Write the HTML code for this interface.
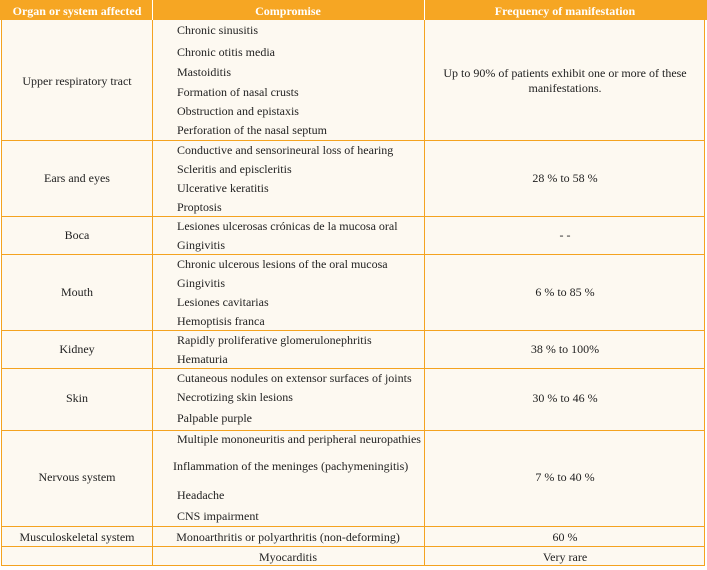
<!DOCTYPE html>
<html><head><meta charset="utf-8"><style>
body{margin:0;width:707px;height:570px;background:#fff;overflow:hidden;font-family:"Liberation Serif",serif;font-size:12px;color:#222}
#t{position:absolute;left:1px;top:0;width:704px;height:566px;background:#fdf9f1;border:1px solid #f4a320;box-sizing:border-box}
.h{position:absolute;left:0;top:0;width:707px;height:20px;background:#f6a623}
.hl{position:absolute;left:1px;width:704px;height:1px;background:#f4a320}
.vl{position:absolute;width:1px;background:#f4a320}
.tx{position:absolute;white-space:nowrap;line-height:14px;transform:translateY(-7px)}
.c{transform:translate(-50%,-7px);text-align:center}
.hd{color:#fff;font-weight:bold;font-size:12px}
</style></head><body>
<div id="t"></div>
<div class="h"></div>
<div class="vl" style="left:152px;top:0;height:566px"></div>
<div class="vl" style="left:424px;top:0;height:566px"></div>
<div class="vl" style="left:152px;top:0;height:20px;background:#fff"></div>
<div class="vl" style="left:424px;top:0;height:20px;background:#fff"></div>
<div class="tx c hd" style="left:77px;top:11px">Organ or system affected</div>
<div class="tx c hd" style="left:288px;top:11px">Compromise</div>
<div class="tx c hd" style="left:565px;top:11px">Frequency of manifestation</div>
<div id="rows"></div>
<script>
const lines=[140,216,254,330,368,430,526,546];
const rows=document.getElementById('rows');
lines.forEach(y=>{const d=document.createElement('div');d.className='hl';d.style.top=y+'px';


rows.appendChild(d);});
const data=[
 ["Upper respiratory tract",81,[["Chronic sinusitis",30],["Chronic otitis media",52],["Mastoiditis",72],["Formation of nasal crusts",92],["Obstruction and epistaxis",111],["Perforation of the nasal septum",130]],[["Up to 90% of patients exhibit one or more of these",73],["manifestations.",88]]],
 ["Ears and eyes",178,[["Conductive and sensorineural loss of hearing",150],["Scleritis and episcleritis",169],["Ulcerative keratitis",188],["Proptosis",207]],[["28 % to 58 %",178]]],
 ["Boca",235,[["Lesiones ulcerosas crónicas de la mucosa oral",226],["Gingivitis",245]],[["- -",235]]],
 ["Mouth",292,[["Chronic ulcerous lesions of the oral mucosa",264],["Gingivitis",283],["Lesiones cavitarias",302],["Hemoptisis franca",321]],[["6 % to 85 %",292]]],
 ["Kidney",349,[["Rapidly proliferative glomerulonephritis",340],["Hematuria",359]],[["38 % to 100%",349]]],
 ["Skin",398,[["Cutaneous nodules on extensor surfaces of joints",378],["Necrotizing skin lesions",397],["Palpable purple",418]],[["30 % to 46 %",398]]],
 ["Nervous system",477,[["Multiple mononeuritis and peripheral neuropathies",439],["Inflammation of the meninges (pachymeningitis)",466,173],["Headache",495],["CNS impairment",516]],[["7 % to 40 %",477]]]
];
function add(text,x,y,center,name){const d=document.createElement('div');d.className='tx'+(center?' c':'');d.style.left=x+'px';d.style.top=y+'px';d.textContent=text;


rows.appendChild(d);}
data.forEach(r=>{add(r[0],77,r[1],true,'organ-label');
r[2].forEach(l=>add(l[0],l[2]||177,l[1],false,'compromise-item'));
r[3].forEach(l=>add(l[0],565,l[1],true,'frequency-value'));});
add("Musculoskeletal system",77,537,true,'organ-label');
add("Monoarthritis or polyarthritis (non-deforming)",288,537,true,'compromise-item');
add("60 %",565,537,true,'frequency-value');
add("Myocarditis",288,557,true,'compromise-item');
add("Very rare",565,557,true,'frequency-value');
</script>
</body></html>
